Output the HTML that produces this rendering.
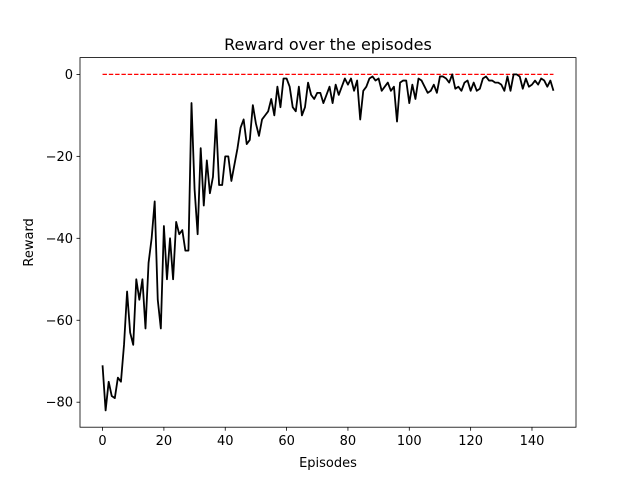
<!DOCTYPE html>
<html><head><meta charset="utf-8"><style>
body{margin:0;background:#fff}
svg text{font-family:"DejaVu Sans","Liberation Sans",sans-serif;fill:#000}
</style></head><body>
<svg id="chart" width="640" height="480"></svg>
<script>
const rewards=[-71,-82,-75,-78.5,-79,-74,-75,-66,-53,-63,-66,-50,-55,-50,-62,-46,-40,-31,-55,-62,
-37,-50,-40,-50,-36,-39,-38,-43,-43,-7,-28,-39,-18,-32,-21,-29,-25,-11,-27,-27,
-20,-20,-26,-22,-18,-13,-11,-17,-16,-7.5,-12,-15,-11,-10,-9,-6,-10,-3,-8,-1,
-1,-3,-8,-9,-3,-10,-8,-2,-5,-6,-4.5,-4.5,-7,-5,-3,-7,-2.5,-5,-3,-1,
-2.5,-1,-4,-1.5,-11,-4,-3,-1,-0.5,-1.5,-1,-4,-3,-2,-4,-3,-11.5,-2,-1.5,-1.5,
-7,-2.5,-6,-1,-1.5,-3,-4.5,-4,-2.5,-4.5,-0.5,-0.5,-1,-2,0,-3.5,-3,-4,-2,-1.5,
-4,-2,-4,-3.5,-1,-0.5,-1.5,-1.5,-2,-2,-2.5,-4,-0.5,-4,0,0,-0.5,-3.5,-1,-3,
-2.5,-1.5,-2.5,-1,-1.5,-3,-1.5,-4];
const xTicks=[0,20,40,60,80,100,120,140];
const yTicks=[0,-20,-40,-60,-80];
const target=[0];
const NS="http://www.w3.org/2000/svg";
const svg=document.getElementById('chart');
const L=80,R=576,T=57.6,B=427.2;
const n=rewards.length;
const xmin=-(n-1)*0.05,xmax=(n-1)*1.05;
const ymin0=Math.min(...rewards),ymax0=Math.max(...rewards,0);
const pad=(ymax0-ymin0)*0.05;const ymin=ymin0-pad,ymax=ymax0+pad;
const X=v=>L+(v-xmin)/(xmax-xmin)*(R-L);
const Y=v=>B-(v-ymin)/(ymax-ymin)*(B-T);
function el(t,a){const e=document.createElementNS(NS,t);for(const k in a)e.setAttribute(k,a[k]);svg.appendChild(e);return e;}
let e;
e=el('polyline',{points:[X(0),Y(target[0]),X(n-1),Y(target[0])].join(' '),fill:'none',stroke:'#ff0000','stroke-width':1.2,'stroke-dasharray':'4.4,1.9'});


e=el('polyline',{points:rewards.map((v,i)=>X(i)+','+Y(v)).join(' '),fill:'none',stroke:'#000','stroke-width':1.8,'stroke-linejoin':'round'});


e=el('rect',{x:L,y:T,width:R-L,height:B-T,fill:'none',stroke:'#000','stroke-width':0.8});


xTicks.forEach(t=>{
 const x=X(t);
 e=el('line',{x1:x,x2:x,y1:B,y2:B+3.5,stroke:'#000','stroke-width':0.8});
 
 
 e=el('text',{x:x,y:B+18,'text-anchor':'middle','font-size':13});e.textContent=t;
 
 
});
yTicks.forEach(t=>{
 const y=Y(t);
 e=el('line',{x1:L-3.5,x2:L,y1:y,y2:y,stroke:'#000','stroke-width':0.8});
 
 
 e=el('text',{x:L-7,y:y+4.5,'text-anchor':'end','font-size':13});e.textContent=t===0?'0':'\u2212'+Math.abs(t);
 
 
});
e=el('text',{x:(L+R)/2,y:467,'text-anchor':'middle','font-size':13});e.textContent='Episodes';


e=el('text',{x:0,y:0,'text-anchor':'middle','font-size':13,transform:'translate(33,'+((T+B)/2)+') rotate(-90)'});e.textContent='Reward';


e=el('text',{x:(L+R)/2,y:50,'text-anchor':'middle','font-size':16});e.textContent='Reward over the episodes';


</script>
</body></html>
